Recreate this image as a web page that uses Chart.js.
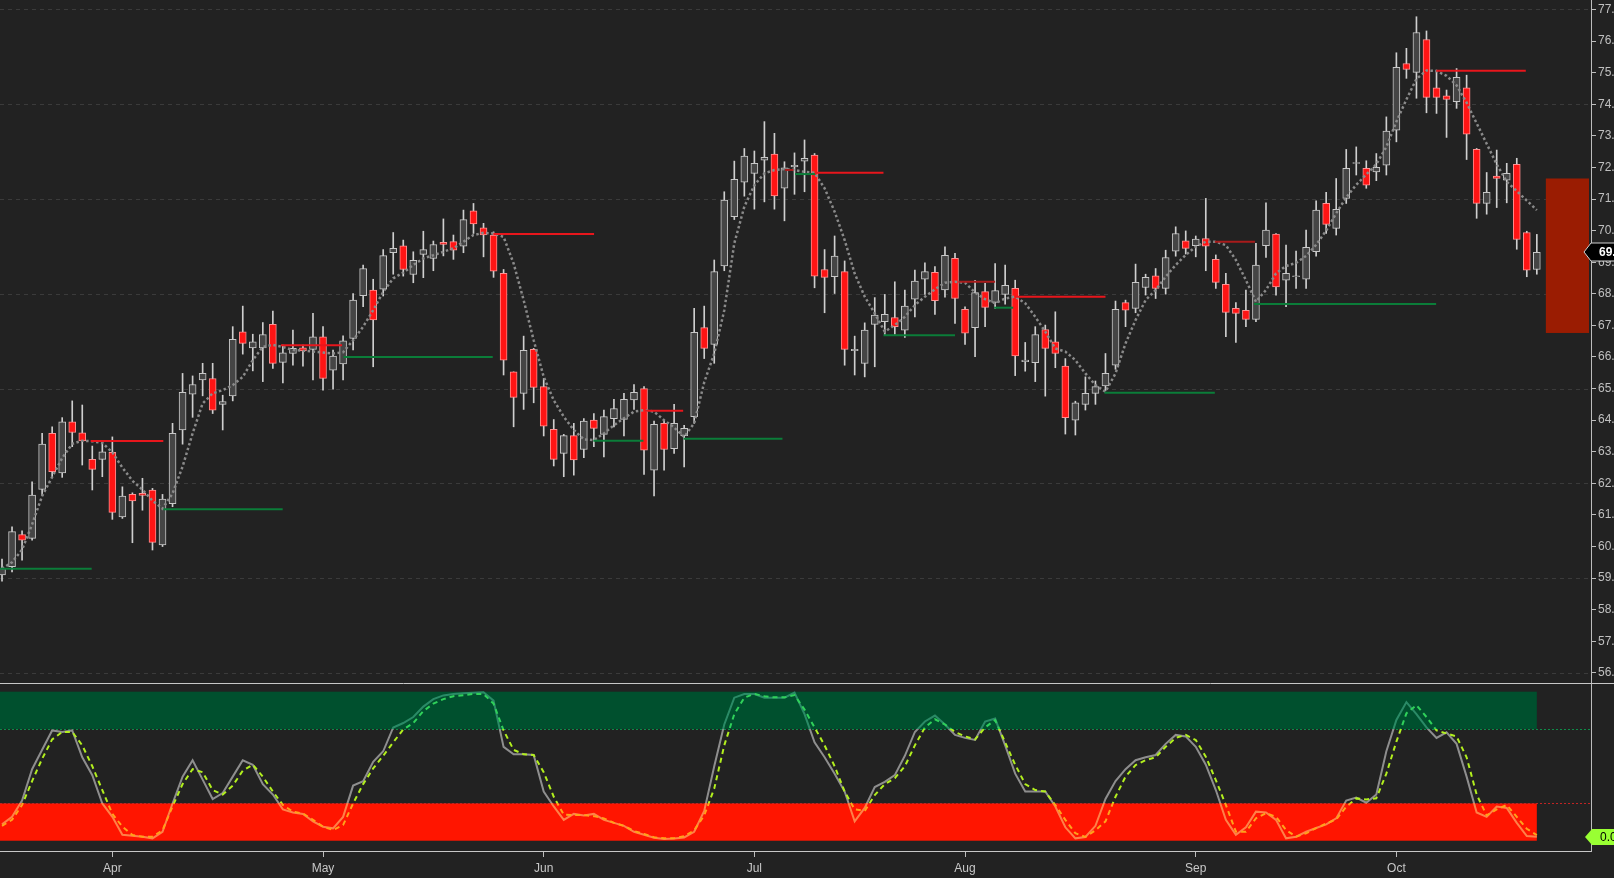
<!DOCTYPE html>
<html>
<head>
<meta charset="utf-8">
<script src="https://cdn.jsdelivr.net/npm/chart.js@4.4.1/dist/chart.umd.min.js"></script>
<style>
	html, body { margin: 0; padding: 0; background: #222222; overflow: hidden; }
	#top { position: absolute; left: 0; top: 0; width: 1614px; height: 683px; }
	#bot { position: absolute; left: 0; top: 683px; width: 1614px; height: 195px; }
</style>
</head>
<body>
<div id="top"><canvas id="priceChart"></canvas></div>
<div id="bot"><canvas id="oscChart"></canvas></div>
<script>
// daily candles, index 0 = first visible bar (mid March)
const opens = [
	59.1, 59.36, 60.38, 60.26, 61.81, 63.58, 62.33, 63.95, 63.6, 62.76,
	62.76, 62.98, 60.94, 61.65, 61.68, 61.79, 60.05, 61.36, 63.69, 64.82,
	65.27, 65.32, 64.5, 64.77, 66.8, 66.29, 66.29, 67.03, 65.83, 66.11,
	66.29, 66.24, 66.64, 65.58, 65.78, 66.59, 67.94, 68.12, 68.15, 69.3,
	69.52, 68.61, 69.25, 69.12, 69.63, 69.65, 69.51, 70.63, 70.09, 69.86,
	68.65, 65.53, 64.85, 66.24, 65.06, 63.71, 62.95, 63.51, 63.07, 64.0,
	63.55, 64.05, 64.02, 64.64, 65.0, 62.42, 63.9, 63.1, 63.51, 64.11,
	66.93, 66.4, 68.88, 70.44, 71.53, 71.81, 72.23, 72.42, 71.34, 72.02,
	72.2, 72.39, 68.77, 68.54, 68.7, 66.2, 65.8, 67.03, 67.12, 67.25,
	66.85, 67.83, 68.46, 68.68, 68.12, 69.12, 67.51, 66.93, 68.07, 67.73,
	67.98, 68.17, 65.85, 65.82, 66.87, 66.48, 65.71, 64.0, 64.5, 64.85,
	65.08, 65.74, 67.72, 67.54, 68.2, 68.57, 68.17, 69.35, 69.68, 69.52,
	69.75, 69.09, 68.3, 67.54, 67.48, 67.19, 69.52, 69.89, 68.43, 68.54,
	68.46, 69.33, 70.86, 70.07, 71.02, 72.13, 71.97, 71.86, 72.07, 73.18,
	75.29, 75.01, 76.05, 74.52, 74.27, 74.08, 74.52, 72.57, 70.86, 71.73,
	71.6, 72.1, 69.94, 68.77
];
const highs = [
	59.6, 60.62, 60.5, 62.05, 63.58, 63.79, 64.08, 64.61, 64.48, 63.18,
	63.26, 63.47, 61.89, 61.7, 62.16, 61.84, 61.65, 63.9, 65.48, 65.4,
	65.8, 65.8, 64.79, 66.96, 67.61, 66.72, 67.09, 67.45, 66.38, 66.85,
	66.38, 67.38, 66.96, 66.22, 66.67, 68.01, 68.91, 68.46, 69.4, 69.94,
	69.7, 69.33, 69.98, 69.67, 70.37, 69.86, 70.65, 70.86, 70.23, 69.96,
	68.77, 65.53, 66.66, 66.27, 65.32, 64.02, 63.55, 63.9, 64.05, 64.21,
	64.32, 64.66, 64.85, 65.13, 65.06, 63.97, 64.0, 64.5, 63.84, 67.54,
	67.61, 69.07, 71.23, 72.2, 72.6, 72.52, 73.45, 73.08, 72.18, 72.46,
	72.87, 72.44, 69.4, 69.83, 69.04, 66.66, 67.08, 67.88, 67.98, 68.38,
	68.12, 68.75, 68.98, 68.86, 69.49, 69.28, 67.59, 68.43, 68.33, 68.96,
	68.91, 68.43, 66.46, 66.96, 67.01, 67.43, 65.95, 64.6, 65.37, 65.24,
	66.11, 67.77, 67.8, 68.94, 68.62, 68.8, 69.38, 70.12, 69.99, 69.83,
	71.02, 69.23, 68.65, 67.72, 68.12, 69.6, 70.88, 69.91, 69.54, 69.35,
	70.02, 70.94, 71.21, 71.65, 72.57, 72.65, 72.21, 72.44, 73.6, 75.63,
	75.77, 76.77, 76.32, 75.08, 74.45, 75.13, 74.92, 72.6, 71.84, 72.55,
	72.13, 72.29, 69.98, 69.88
];
const lows = [
	58.9, 59.2, 59.57, 60.2, 61.63, 62.21, 62.19, 63.16, 62.58, 61.79,
	62.21, 60.86, 60.89, 60.12, 61.15, 59.89, 60.0, 61.26, 63.24, 64.09,
	64.77, 64.21, 63.69, 64.61, 66.09, 65.56, 65.22, 65.64, 65.18, 65.74,
	65.71, 65.27, 64.95, 64.98, 65.27, 66.22, 67.59, 65.69, 67.93, 68.62,
	68.56, 68.35, 68.51, 68.73, 69.2, 69.09, 69.3, 69.91, 69.17, 68.52,
	65.43, 63.79, 64.34, 64.55, 63.5, 62.55, 62.21, 62.26, 62.81, 63.16,
	62.84, 63.79, 63.5, 64.34, 62.28, 61.6, 62.42, 62.95, 62.52, 63.9,
	65.95, 65.8, 68.73, 70.35, 71.09, 70.68, 70.91, 70.68, 70.31, 71.15,
	71.23, 68.19, 67.4, 68.01, 65.74, 65.43, 65.37, 65.69, 66.71, 66.72,
	66.62, 67.27, 67.98, 67.35, 67.89, 67.06, 66.4, 66.01, 66.96, 67.54,
	67.67, 65.41, 65.55, 65.22, 64.76, 65.66, 63.56, 63.53, 64.32, 64.5,
	64.93, 65.61, 66.96, 67.4, 67.96, 67.85, 67.99, 69.19, 69.26, 69.17,
	68.73, 68.17, 66.64, 66.46, 66.96, 67.12, 69.15, 67.96, 67.59, 68.17,
	68.17, 69.19, 69.91, 69.86, 70.86, 71.76, 71.34, 71.58, 71.76, 72.81,
	74.82, 74.19, 73.73, 73.71, 72.95, 73.87, 72.25, 70.39, 70.52, 70.73,
	70.88, 69.41, 68.54, 68.62
];
const closes = [
	59.3, 60.47, 60.2, 61.63, 63.24, 62.37, 63.95, 63.61, 63.34, 62.44,
	63.0, 61.08, 61.6, 61.44, 61.62, 60.13, 61.5, 63.58, 64.88, 65.13,
	65.48, 64.32, 64.59, 66.56, 66.43, 66.48, 66.71, 65.8, 66.13, 66.27,
	66.19, 66.64, 65.32, 66.03, 66.51, 67.8, 68.8, 67.17, 69.21, 69.44,
	68.77, 69.06, 69.4, 69.56, 69.56, 69.38, 70.35, 70.21, 69.86, 68.72,
	65.9, 64.72, 66.21, 65.04, 63.81, 62.76, 63.51, 62.74, 63.97, 63.74,
	64.11, 64.37, 64.66, 64.88, 63.05, 63.87, 63.07, 63.9, 63.74, 66.78,
	66.27, 68.7, 70.97, 71.62, 72.36, 72.13, 72.32, 71.1, 71.99, 72.07,
	72.29, 68.56, 68.52, 69.19, 66.24, 66.24, 66.85, 67.33, 67.35, 66.96,
	67.61, 68.4, 68.7, 67.78, 69.22, 67.85, 66.75, 68.04, 67.57, 68.1,
	68.27, 66.03, 65.9, 66.71, 66.27, 66.11, 64.08, 64.55, 64.85, 65.06,
	65.48, 67.51, 67.48, 68.36, 68.52, 68.17, 69.15, 69.91, 69.44, 69.73,
	69.51, 68.36, 67.41, 67.38, 67.19, 68.91, 70.02, 68.22, 68.65, 68.57,
	69.47, 70.65, 70.2, 70.67, 71.97, 72.15, 71.44, 72.0, 73.15, 75.17,
	75.1, 76.27, 74.22, 74.22, 74.15, 74.85, 73.05, 70.86, 71.21, 71.65,
	71.81, 69.72, 68.75, 69.31
];

// dotted trailing line drawn over the candles
const trendLine = [
	59.3, 59.5, 59.9, 60.7, 61.6, 62.2, 62.8, 63.25, 63.35, 63.33,
	63.28, 62.98, 62.5, 62.08, 61.8, 61.45, 61.2, 61.68, 62.53, 63.58,
	64.53, 64.85, 64.95, 65.11, 65.37, 65.9, 66.32, 66.38, 66.32, 66.22,
	66.2, 66.17, 66.14, 66.11, 66.15, 66.53, 66.96, 67.48, 68.06, 68.49,
	68.67, 68.91, 69.12, 69.22, 69.33, 69.44, 69.65, 69.86, 69.93, 69.91,
	69.8, 68.96, 67.8, 66.53, 65.37, 64.63, 64.11, 63.69, 63.39, 63.37,
	63.58, 63.84, 64.06, 64.27, 64.32, 64.27, 64.0, 63.77, 63.47, 63.9,
	65.2, 66.11, 67.48, 69.6, 70.76, 71.44, 71.81, 71.92, 71.95, 71.92,
	71.86, 71.83, 71.34, 70.6, 69.7, 68.64, 67.91, 67.38, 66.8, 67.01,
	67.27, 67.64, 67.91, 68.14, 68.35, 68.38, 68.35, 68.04, 67.83, 67.7,
	67.85, 67.91, 67.7, 67.27, 66.8, 66.27, 66.17, 65.9, 65.48, 65.11,
	64.9, 65.48, 66.43, 67.17, 67.8, 68.12, 68.54, 68.91, 69.23, 69.49,
	69.65, 69.65, 69.54, 69.07, 68.43, 67.75, 68.12, 68.65, 68.88, 68.98,
	69.2, 69.55, 70.0, 70.55, 71.05, 71.45, 71.78, 72.1, 72.65, 73.45,
	74.15, 74.8, 75.07, 75.05, 74.9, 74.6, 74.05, 73.4, 72.75, 72.1,
	71.55, 71.25, 70.95, 70.65
];

// [from bar, to bar, price]
const resistanceLevels = [
	[8.84, 16.08, 63.34], [27.8, 33.9, 66.37], [48.98, 59.02, 69.89],
	[64.1, 67.9, 64.3], [78.06, 78.9, 71.92], [81.06, 87.87, 71.83],
	[95.35, 99.0, 68.38], [101.0, 110.0, 67.91], [120.9, 124.9, 69.65],
	[142.97, 151.9, 75.06]
];
const supportLevels = [
	[-0.2, 8.94, 59.3], [16.08, 27.98, 61.18], [34.03, 48.92, 66.0],
	[58.95, 63.94, 63.35], [67.94, 77.8, 63.41], [79.06, 81.06, 71.79],
	[87.87, 95.0, 66.69], [98.9, 100.8, 67.56], [109.9, 120.9, 64.87],
	[124.8, 142.96, 67.68]
];

// projected range box at the right edge: [from bar, to bar, top, bottom]
const rangeBox = [153.9, 158.2, 71.65, 66.76];

// stochastic oscillator
const kLine = [
	11, 16, 27, 48, 61, 74, 73, 74, 56, 44,
	25, 16, 4, 3.4, 2.7, 1.6, 6, 25, 43, 54,
	41, 28, 32, 43, 54, 51, 38, 31, 21, 19,
	18, 13, 9.4, 8.3, 16, 37, 40, 53, 60, 76,
	79, 83, 90, 95, 97.5, 98.5, 99, 99.3, 99.6, 94,
	63, 58, 58, 57.5, 33, 23, 14, 18, 17, 18,
	14, 12, 10, 6, 4, 2, 1.2, 1.5, 2.2, 6,
	20, 50, 78, 96, 98.5, 98.5, 96, 96, 96, 99.4,
	85, 66, 56, 45, 33, 13, 22, 36, 39.5, 44,
	57, 73, 80, 84, 78, 71, 69, 67.6, 80, 82,
	64, 45, 33, 33, 33, 23, 9, 1.6, 2.5, 10,
	28, 40, 48, 54, 56, 57.5, 65, 71, 70, 63,
	51, 34, 14, 4, 9, 19.5, 19, 14, 1.6, 2.7,
	6, 8.5, 11, 15, 27, 29, 25.5, 31, 60, 81,
	93, 85, 76, 69, 72.7, 65, 43, 19, 16, 23,
	22, 12, 3.1, 2.7
];
const dLine = [
	10, 14, 24, 40, 55, 68, 73, 73, 64, 50,
	34, 18, 9.4, 3.8, 2.7, 2.7, 7, 23, 38, 48,
	46, 34, 31, 37, 47, 51, 43, 33, 24, 19.5,
	18.3, 14, 9.4, 7.2, 10.5, 25, 38, 48.5, 57, 66,
	74.7, 79, 87, 92, 95, 97, 97.7, 98.5, 98.5, 92,
	74, 61, 58, 57.5, 46, 29.5, 17.5, 17.2, 17.2, 16.5,
	15, 12, 10, 6.5, 4.5, 2.3, 1.6, 1.6, 3, 7,
	17, 35, 64, 85, 96, 98.5, 97, 96.2, 96.2, 97.7,
	88, 76, 64, 50, 33, 21, 20, 30.6, 38, 42,
	50, 64, 76, 81.5, 78, 73, 70, 68, 76, 81,
	66, 51, 38, 34, 33, 24, 14, 5, 2.5, 7,
	13, 29.5, 43, 50.8, 54, 56, 63, 69, 71, 67.6,
	56.4, 40.7, 24, 6.1, 6, 15, 18.5, 16, 7.2, 2.7,
	5, 8.5, 11.5, 14.3, 22.8, 28.4, 27.7, 28.5, 45, 66.5,
	85.5, 91, 83, 74, 72, 70, 56, 31, 17, 21,
	24, 16, 8, 3.8
];
const oscUpper = 75;
const oscLower = 25;
const oscLabel = "0.00";

// axis ticks
const monthTicks = [11, 32, 54, 75, 96, 119, 139];
const monthLabels = ["Apr", "May", "Jun", "Jul", "Aug", "Sep", "Oct"];
const priceTicks = [56, 57, 58, 59, 60, 61, 62, 63, 64, 65, 66, 67, 68, 69, 70, 71, 72, 73, 74, 75, 76, 77];
const gridLevels = [77, 74, 71, 68, 65, 62, 59, 56];


Chart.defaults.font.family = '"Liberation Sans", Arial, sans-serif';
Chart.defaults.animation = false;

const lastIdx = closes.length - 1;
const AXIS_W = 23;
const X_MIN = -0.2;
const X_MAX = 158.4;

// keep the plot area flush with the canvas edges
function fitAxis(s) {
	if (s.isHorizontal()) {
		s.height = 27;
	} else {
		s.width = AXIS_W;
	}
	s.paddingTop = 0;
	s.paddingBottom = 0;
	s.paddingLeft = 0;
	s.paddingRight = 0;
}

const wickData = closes.map((c, i) => ({ x: i, y: [lows[i], highs[i]] }));
const bodyData = closes.map((c, i) => ({ x: i, y: [Math.min(opens[i], c), Math.max(opens[i], c)] }));
const isUp = closes.map((c, i) => c >= opens[i]);

const dimLevels = [4, 6, 8];
const levelSets = [];
resistanceLevels.forEach((l, n) => {
	levelSets.push({
		type: "line",
		data: [{ x: l[0], y: l[2] }, { x: l[1], y: l[2] }],
		borderColor: dimLevels.includes(n) ? "#a81b1b" : "#e8161c",
		borderWidth: 2,
		pointRadius: 0,
		order: 1,
	});
});
supportLevels.forEach((l) => {
	levelSets.push({
		type: "line",
		data: [{ x: l[0], y: l[2] }, { x: l[1], y: l[2] }],
		borderColor: "#0b7d39",
		borderWidth: 2,
		pointRadius: 0,
		order: 1,
	});
});

const priceDecor = {
	id: "priceDecor",
	beforeDatasetsDraw(chart) {
		const { ctx, chartArea, scales } = chart;
		ctx.save();
		ctx.strokeStyle = "#3b3b3b";
		ctx.lineWidth = 1;
		ctx.setLineDash([4, 4]);
		gridLevels.forEach((v) => {
			const y = Math.round(scales.y.getPixelForValue(v)) + 0.5;
			ctx.beginPath();
			ctx.moveTo(chartArea.left, y);
			ctx.lineTo(chartArea.right, y);
			ctx.stroke();
		});
		ctx.setLineDash([]);
		// range box
		const x1 = scales.x.getPixelForValue(rangeBox[0]);
		const x2 = scales.x.getPixelForValue(rangeBox[1]);
		const y1 = scales.y.getPixelForValue(rangeBox[2]);
		const y2 = scales.y.getPixelForValue(rangeBox[3]);
		ctx.fillStyle = "#9a1c02";
		ctx.fillRect(x1, y1, x2 - x1, y2 - y1);
		ctx.restore();
	},
	afterDraw(chart) {
		const { ctx, chartArea, scales } = chart;
		const y = Math.round(scales.y.getPixelForValue(closes[lastIdx]));
		const x = chartArea.right;
		ctx.save();
		ctx.beginPath();
		ctx.moveTo(x - 7, y);
		ctx.lineTo(x, y - 9);
		ctx.lineTo(chart.width + 2, y - 9);
		ctx.lineTo(chart.width + 2, y + 9);
		ctx.lineTo(x, y + 9);
		ctx.closePath();
		ctx.fillStyle = "#000";
		ctx.fill();
		ctx.strokeStyle = "#d0d0d0";
		ctx.lineWidth = 1;
		ctx.stroke();
		ctx.fillStyle = "#fff";
		ctx.font = 'bold 12px "Liberation Sans", Arial, sans-serif';
		ctx.textBaseline = "middle";
		ctx.fillText(closes[lastIdx].toFixed(2), x + 8, y + 1);
		ctx.restore();
	},
};

new Chart("priceChart", {
	type: "bar",
	data: {
		datasets: [
			{
				label: "wick",
				data: wickData,
				barThickness: 1,
				backgroundColor: "#cfcfcf",
				borderWidth: 0,
				grouped: false,
				order: 4,
			},
			{
				label: "body",
				data: bodyData,
				barThickness: 7,
				backgroundColor: isUp.map((u) => (u ? "#454545" : "#ff1414")),
				borderColor: isUp.map((u) => (u ? "#c8c8c8" : "#ff9090")),
				borderWidth: 1,
				borderSkipped: false,
				grouped: false,
				order: 3,
			},
			{
				type: "line",
				label: "trail",
				data: trendLine.map((v, i) => ({ x: i, y: v })),
				borderColor: "#8a8a8a",
				borderWidth: 2.5,
				borderDash: [2.5, 2.5],
				pointRadius: 0,
				order: 2,
			},
			...levelSets,
		],
	},
	options: {
		responsive: true,
		maintainAspectRatio: false,
		events: [],
		layout: { padding: 0 },
		plugins: { legend: { display: false }, tooltip: { enabled: false } },
		scales: {
			x: {
				type: "linear",
				display: false,
				min: X_MIN,
				max: X_MAX,
				offset: false,
			},
			y: {
				type: "linear",
				position: "right",
				min: 55.68,
				max: 77.3,
				beginAtZero: false,
				afterBuildTicks: (s) => { s.ticks = priceTicks.map((v) => ({ value: v })); },
				afterFit: fitAxis,
				grid: { drawOnChartArea: false, tickLength: 5, tickColor: "#bdbdbd" },
				border: { color: "#bdbdbd", width: 1 },
				ticks: {
					color: "#c0c0c0",
					font: { size: 12 },
					padding: 2,
					callback: (v) => Number(v).toFixed(2),
				},
			},
		},
	},
	plugins: [priceDecor],
});


// oscillator panel
function zoneGradient(chart, high, mid, low) {
	const area = chart.chartArea;
	if (!area) return mid;
	const ys = chart.scales.y;
	const h = area.bottom - area.top;
	const fU = (ys.getPixelForValue(oscUpper) - area.top) / h;
	const fL = (ys.getPixelForValue(oscLower) - area.top) / h;
	const g = chart.ctx.createLinearGradient(0, area.top, 0, area.bottom);
	g.addColorStop(0, high);
	g.addColorStop(fU, high);
	g.addColorStop(fU, mid);
	g.addColorStop(fL, mid);
	g.addColorStop(fL, low);
	g.addColorStop(1, low);
	return g;
}

const oscDecor = {
	id: "oscDecor",
	beforeDatasetsDraw(chart) {
		const { ctx, chartArea, scales } = chart;
		const xEnd = scales.x.getPixelForValue(lastIdx);
		const yTop = scales.y.getPixelForValue(100);
		const yU = scales.y.getPixelForValue(oscUpper);
		const yL = scales.y.getPixelForValue(oscLower);
		const yZero = scales.y.getPixelForValue(0);
		ctx.save();
		ctx.fillStyle = "#00502e";
		ctx.fillRect(chartArea.left, yTop, xEnd - chartArea.left, yU - yTop);
		ctx.fillStyle = "#ff1500";
		ctx.fillRect(chartArea.left, yL, xEnd - chartArea.left, yZero - yL);
		ctx.lineWidth = 1;
		ctx.setLineDash([2, 2]);
		ctx.strokeStyle = "#0f8a48";
		ctx.beginPath();
		ctx.moveTo(chartArea.left, Math.round(yU) + 0.5);
		ctx.lineTo(chartArea.right, Math.round(yU) + 0.5);
		ctx.stroke();
		ctx.strokeStyle = "#c02424";
		ctx.beginPath();
		ctx.moveTo(chartArea.left, Math.round(yL) + 0.5);
		ctx.lineTo(chartArea.right, Math.round(yL) + 0.5);
		ctx.stroke();
		ctx.setLineDash([]);
		ctx.strokeStyle = "#c8c8c8";
		ctx.beginPath();
		ctx.moveTo(0, 0.5);
		ctx.lineTo(chart.width, 0.5);
		ctx.stroke();
		ctx.restore();
	},
	afterDraw(chart) {
		const { ctx, chartArea, scales } = chart;
		const y = Math.round(scales.y.getPixelForValue(kLine[lastIdx]));
		const x = chartArea.right;
		ctx.save();
		ctx.beginPath();
		ctx.moveTo(x - 6, y);
		ctx.lineTo(x + 1, y - 8);
		ctx.lineTo(chart.width + 2, y - 8);
		ctx.lineTo(chart.width + 2, y + 8);
		ctx.lineTo(x + 1, y + 8);
		ctx.closePath();
		ctx.fillStyle = "#99ff33";
		ctx.fill();
		ctx.fillStyle = "#000";
		ctx.font = '12px "Liberation Sans", Arial, sans-serif';
		ctx.textBaseline = "middle";
		ctx.fillText(oscLabel, x + 9, y + 1);
		ctx.restore();
	},
};

new Chart("oscChart", {
	type: "line",
	data: {
		datasets: [
			{
				label: "%D",
				data: dLine.map((v, i) => ({ x: i, y: v })),
				borderColor: (c) => zoneGradient(c.chart, "#2fd15a", "#b2ef1e", "#ffa21a"),
				borderWidth: 2,
				borderDash: [5, 4],
				pointRadius: 0,
				order: 1,
			},
			{
				label: "%K",
				data: kLine.map((v, i) => ({ x: i, y: v })),
				borderColor: (c) => zoneGradient(c.chart, "#2a8a66", "#8e8e8e", "#ff8048"),
				borderWidth: 2,
				pointRadius: 0,
				order: 2,
			},
		],
	},
	options: {
		responsive: true,
		maintainAspectRatio: false,
		events: [],
		layout: { padding: 0 },
		plugins: { legend: { display: false }, tooltip: { enabled: false } },
		scales: {
			x: {
				type: "linear",
				min: X_MIN,
				max: X_MAX,
				offset: false,
				afterBuildTicks: (s) => { s.ticks = monthTicks.map((v) => ({ value: v })); },
				afterFit: fitAxis,
				grid: { drawOnChartArea: false, tickLength: 6, tickColor: "#bdbdbd" },
				border: { color: "#c8c8c8", width: 1 },
				ticks: {
					color: "#c8c8c8",
					font: { size: 12 },
					padding: 4,
					maxRotation: 0,
					autoSkip: false,
					callback: (v, i) => monthLabels[i],
				},
			},
			y: {
				type: "linear",
				position: "right",
				min: -6.9,
				max: 105.84,
				afterFit: fitAxis,
				grid: { drawOnChartArea: false, drawTicks: false },
				border: { color: "#bdbdbd", width: 1 },
				ticks: { display: false },
			},
		},
	},
	plugins: [oscDecor],
});
</script>
</body>
</html>
